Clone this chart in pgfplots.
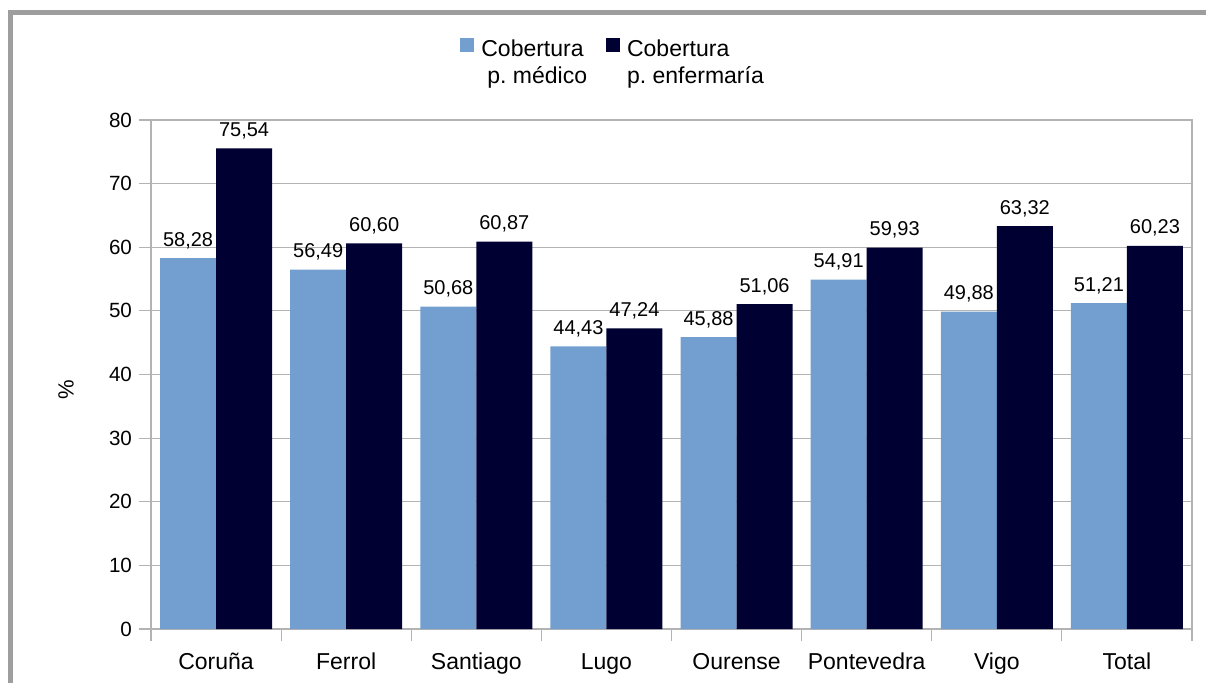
\documentclass[border=0pt]{standalone}
\usepackage{pgfplots}
\pgfplotsset{compat=1.18}
\usepackage{fontspec}
\setmainfont{Liberation Sans}
\frenchspacing
\definecolor{lblue}{HTML}{729FCF}
\definecolor{dblue}{HTML}{000033}
\definecolor{gridc}{HTML}{B3B3B3}
\definecolor{framec}{HTML}{9E9E9E}
\begin{document}
\begin{tikzpicture}
\useasboundingbox (-75.5pt,-26.5pt) rectangle (527.5pt,314.5pt);
\draw[framec, line width=2.5pt] (-70.25pt,-30pt) -- (-70.25pt,308.25pt) -- (530pt,308.25pt);
\begin{axis}[
  at={(0pt,0pt)}, anchor=south west,
  scale only axis, width=520.5pt, height=254.5pt,
  ymin=0, ymax=80, ytick={0,10,20,30,40,50,60,70,80},
  xmin=-0.5, xmax=7.5,
  xtick={-0.5,0.5,1.5,2.5,3.5,4.5,5.5,6.5,7.5},
  x tick label as interval,
  xticklabels={Coruña,Ferrol,Santiago,Lugo,Ourense,Pontevedra,Vigo,Total},
  ybar=0pt, bar width=28pt,
  ymajorgrids, grid style={gridc, line width=0.6pt},
  axis line style={gridc, line width=0.6pt},
  tick style={gridc, line width=0.6pt},
  tick align=outside, major tick length=6pt,
  tick pos=left,
  yticklabel style={font=\fontsize{10.3}{12}\selectfont},
  xticklabel style={font=\fontsize{11.5}{13}\selectfont, text height=8.5pt, text depth=2.5pt, yshift=-2pt},
  /pgf/number format/assume math mode=true,
  ylabel={\%},
  ylabel style={font=\fontsize{11}{13}\selectfont, at={(axis description cs:-0.0817,0.4695)}, anchor=center},
  clip=false,
  nodes near coords={\pgfmathprintnumber[use comma,fixed,fixed zerofill,precision=2]{\pgfplotspointmeta}},
  nodes near coords style={font=\fontsize{10}{12}\selectfont, anchor=base, yshift=6pt, text=black},
  legend columns=2,
  legend style={draw=none, fill=none, at={(axis description cs:0.2968,1.171)}, anchor=north west,
    inner sep=0pt, column sep=0pt, font=\fontsize{11.5}{13.5}\selectfont,
    cells={anchor=base west},
    /tikz/every odd column/.append style={column sep=1.5pt},
    /tikz/every even column/.append style={column sep=7.5pt}},
]
\addplot[fill=lblue, draw=none,
  legend image code/.code={\fill[lblue] (0pt,2pt) rectangle (7pt,9pt);}]
  coordinates {(0,58.28) (1,56.49) (2,50.68) (3,44.43) (4,45.88) (5,54.91) (6,49.88) (7,51.21)};
\addlegendentry{\begin{tabular}[t]{@{}l@{}}Cobertura\\\hspace*{3pt}p.\ médico\end{tabular}}
\addplot[fill=dblue, draw=none,
  legend image code/.code={\fill[dblue] (0pt,2pt) rectangle (7pt,9pt);}]
  coordinates {(0,75.54) (1,60.60) (2,60.87) (3,47.24) (4,51.06) (5,59.93) (6,63.32) (7,60.23)};
\addlegendentry{\begin{tabular}[t]{@{}l@{}}Cobertura\\p.\ enfermaría\end{tabular}}
\end{axis}
\end{tikzpicture}
\end{document}
